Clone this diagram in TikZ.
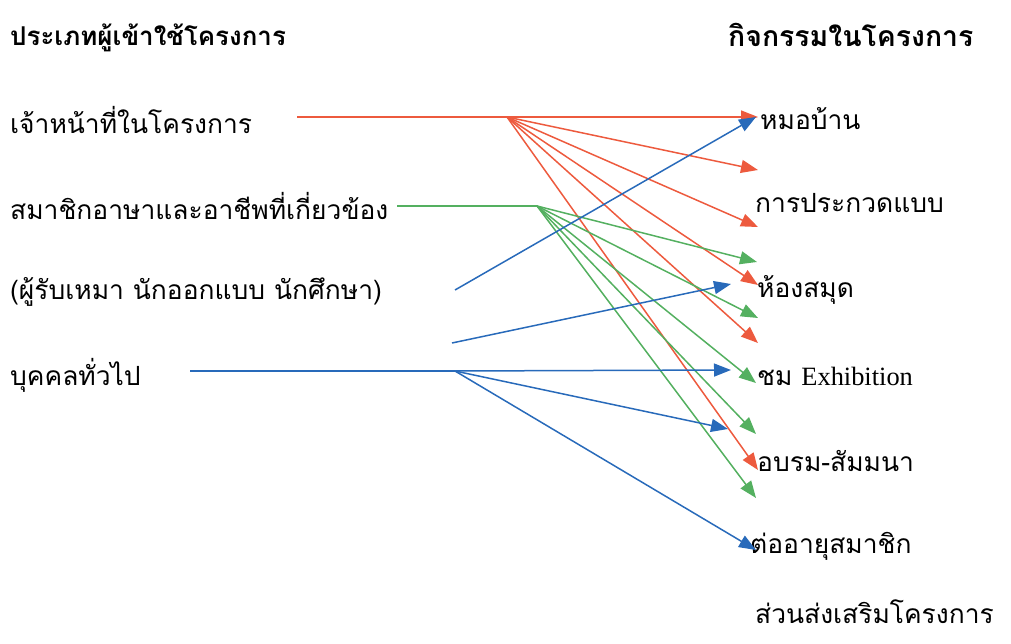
\documentclass[tikz,border=0pt]{standalone}
\usepackage{fontspec}
\newfontfamily\thai[Script=Thai]{Loma}
\newfontfamily\lserif{Liberation Serif}
\usetikzlibrary{arrows.meta}
\definecolor{cred}{RGB}{237,90,62}
\definecolor{cgreen}{RGB}{84,176,96}
\definecolor{cblue}{RGB}{40,106,186}
\tikzset{
  txt/.style={anchor=west,inner sep=0pt,font=\thai\fontsize{26.5}{30}\selectfont},
  head/.style={txt,font=\thai\bfseries\fontsize{26}{30}\selectfont},
  headr/.style={txt,font=\thai\bfseries\fontsize{28.5}{30}\selectfont},
  conn/.style={line width=1.5bp,-{Triangle[length=17bp,width=13bp]}},
  plain/.style={line width=1.5bp},
}
\begin{document}
\begin{tikzpicture}[x=1bp,y=-1bp]
\useasboundingbox (0,0) rectangle (1011,644);
% left column
\node[head] (lh) at (10,38) {ประเภทผู้เข้าใช้โครงการ};
\node[txt] (staff) at (10,120) {เจ้าหน้าที่ในโครงการ};
\node[txt] (asa) at (10,206) {สมาชิกอาษาและอาชีพที่เกี่ยวข้อง};
\node[txt] (asa2) at (10,292) {(ผู้รับเหมา นักออกแบบ นักศึกษา)};
\node[txt] (pub) at (10,375) {บุคคลทั่วไป};
% right column
\node[headr] (rh) at (728,35) {กิจกรรมในโครงการ};
\node[txt] (a1) at (760,119) {หมอบ้าน};
\node[txt] (a2) at (755,203) {การประกวดแบบ};
\node[txt] (a3) at (757,290) {ห้องสมุด};
\node[txt] (a4) at (757,376) {ชม {\lserif Exhibition}};
\node[txt] (a5) at (757,461) {อบรม-สัมมนา};
\node[txt] (a6) at (750,546) {ต่ออายุสมาชิก};
\node[txt] (a7) at (755,612) {ส่วนส่งเสริมโครงการ};
% coordinates
\coordinate (rs) at (297,117);
\coordinate (rhub) at (507,117);
\coordinate (gs) at (397,206);
\coordinate (ghub) at (537,206);
\coordinate (bs) at (190,371);
\coordinate (bhub) at (455,371);
\coordinate (b1s) at (455,290);
\coordinate (b2s) at (452,343);
\coordinate (r1) at (758,117);
\coordinate (r2) at (758,170);
\coordinate (r3) at (758,227);
\coordinate (r4) at (758,285);
\coordinate (r5) at (758,343);
\coordinate (r6) at (758,470);
\coordinate (g1) at (757,262);
\coordinate (g2) at (758,318);
\coordinate (g3) at (756,383);
\coordinate (g4) at (756,434);
\coordinate (g5) at (756,498);
\coordinate (bt1) at (756,117);
\coordinate (bt2) at (731,284);
\coordinate (bt3) at (731,370);
\coordinate (bt4) at (728,429);
\coordinate (bt5) at (756,550);
% red
\draw[plain,cred] (rs) -- (rhub);
\foreach \t in {r1,r2,r3,r4,r5,r6} \draw[conn,cred] (rhub) -- (\t);
% green
\draw[plain,cgreen] (gs) -- (ghub);
\foreach \t in {g1,g2,g3,g4,g5} \draw[conn,cgreen] (ghub) -- (\t);
% blue
\draw[conn,cblue] (b1s) -- (bt1);
\draw[conn,cblue] (b2s) -- (bt2);
\draw[plain,cblue] (bs) -- (bhub);
\draw[conn,cblue] (bhub) -- (bt3);
\draw[conn,cblue] (bhub) -- (bt4);
\draw[conn,cblue] (bhub) -- (bt5);
\end{tikzpicture}
\end{document}
